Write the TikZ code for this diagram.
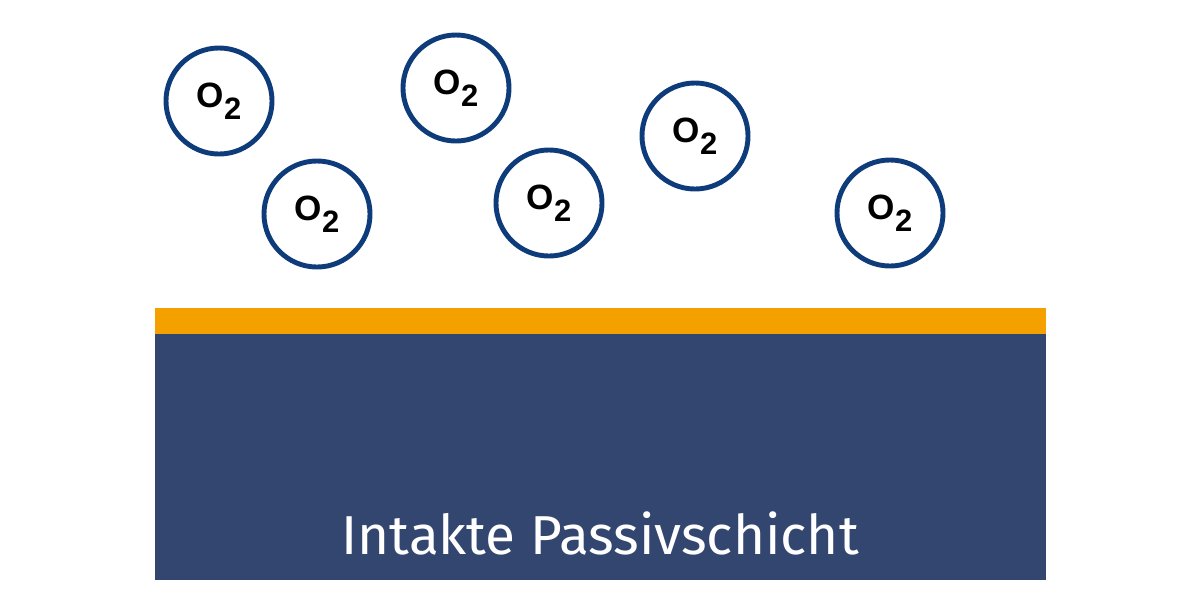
\documentclass[tikz,border=0pt]{standalone}
\usepackage{fontspec}
\setmainfont{Fira Sans}
\newfontfamily\molfont{Liberation Sans}
\definecolor{oxyblue}{HTML}{0E3C7B}
\definecolor{layerorange}{HTML}{F4A100}
\definecolor{metalblue}{HTML}{33466F}
\tikzset{molecule/.style={circle, draw=oxyblue, line width=3.5pt, inner sep=0pt,
minimum size=2.65cm, font=\molfont\bfseries},
every label/.style={rectangle, draw=none}}
\newcommand{\oxy}{{\fontsize{25}{25}\selectfont O}\raisebox{-8.5pt}{\fontsize{22}{22}\selectfont 2}}

\begin{document}
\begin{tikzpicture}[x=0.025cm, y=-0.025cm]
\coordinate (TopLeft) at (0,0);
\coordinate (BottomRight) at (1200,613);
\useasboundingbox (TopLeft) rectangle (BottomRight);

%%Metal with passive layer
\coordinate (LayerTop) at (155,308);
\coordinate (LayerBottom) at (1046,334);
\coordinate (MetalBottom) at (155,580);
\fill[layerorange] (LayerTop) rectangle (LayerBottom);
\fill[metalblue] (MetalBottom) rectangle (LayerBottom);
\node[text=white, font=\fontsize{39}{39}\selectfont, anchor=base] (metal) at (600,554) {Intakte Passivschicht};

%%Oxygen molecules
\foreach \i/\x/\y in {1/219/101, 2/456/88, 3/317/214, 4/549/203, 5/695/136, 6/890/213} {
    \node[molecule] (o\i) at (\x,\y) {\oxy};
}

\end{tikzpicture}
\end{document}
